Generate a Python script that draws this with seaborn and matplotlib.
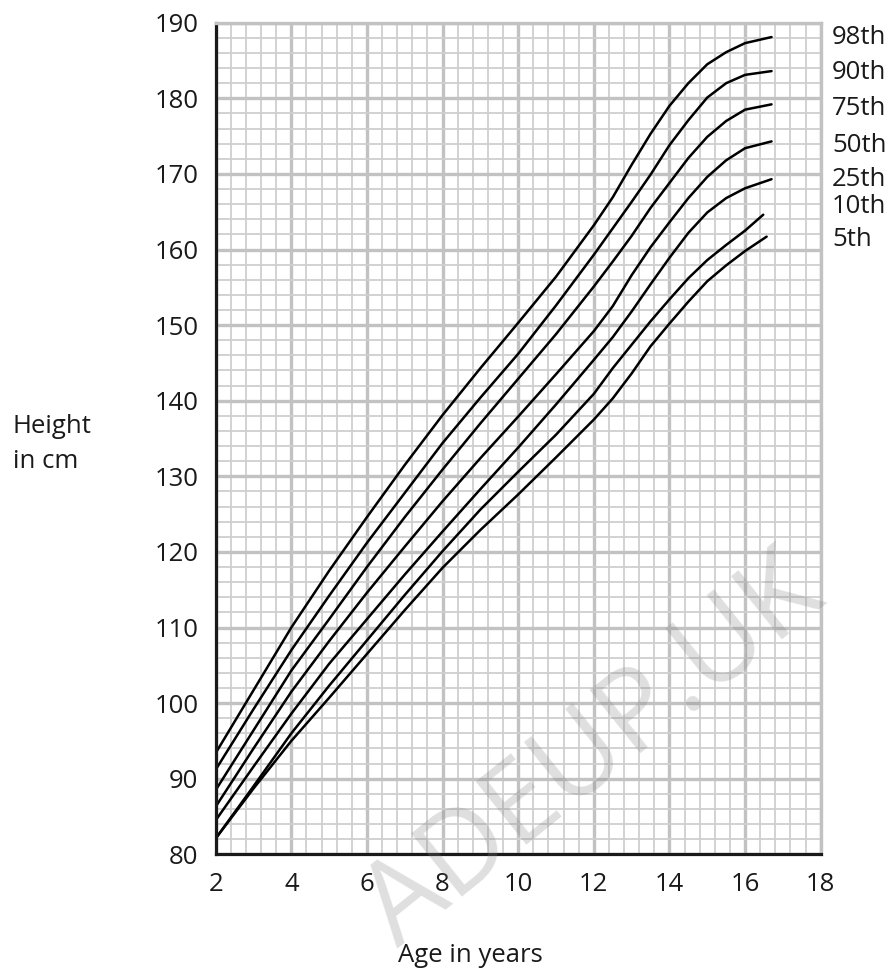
import matplotlib
matplotlib.use("Agg")
import matplotlib.pyplot as plt
import pandas as pd
import seaborn as sns
from matplotlib.ticker import MultipleLocator

# ---------------- data ----------------
PERCENTILES = ["98th", "90th", "75th", "50th", "25th", "10th", "5th"]
AGES = [2, 3, 4, 5, 6, 7, 8, 9, 10, 11, 12, 12.5, 13, 13.5, 14, 14.5, 15, 15.5, 16]
H98 = [93.4, 101.7, 110.0, 117.5, 124.6, 131.5, 138.1, 144.3, 150.3, 156.4, 163.2, 166.9, 171.2, 175.3, 179.0, 182.0, 184.5, 186.1, 187.3]
H90 = [91.2, 99.2, 107.0, 114.2, 121.2, 127.8, 134.4, 140.4, 146.2, 152.6, 159.3, 162.8, 166.3, 169.9, 173.8, 177.1, 180.1, 182.0, 183.1]
H75 = [88.5, 96.4, 104.3, 111.1, 118.0, 124.6, 130.9, 137.0, 142.9, 148.8, 155.1, 158.4, 161.8, 165.5, 168.8, 172.1, 174.9, 177.0, 178.5]
H50 = [86.3, 94.0, 101.5, 108.2, 114.6, 120.7, 126.7, 132.4, 137.9, 143.5, 149.2, 152.5, 156.6, 160.3, 163.6, 166.8, 169.6, 171.8, 173.4]
H25 = [84.5, 91.6, 98.6, 105.2, 111.1, 117.0, 122.7, 128.3, 133.8, 139.5, 145.4, 148.4, 151.8, 155.4, 158.9, 162.2, 164.9, 166.8, 168.1]
H10 = [82.1, 89.0, 96.0, 102.3, 108.3, 114.3, 120.1, 125.6, 130.6, 135.5, 140.9, 144.3, 147.4, 150.5, 153.4, 156.2, 158.6, 160.6, 162.5]
H05 = [82.1, 88.7, 95.0, 100.7, 106.5, 112.3, 117.9, 122.9, 127.6, 132.5, 137.5, 140.3, 143.6, 147.2, 150.2, 153.1, 155.8, 157.9, 159.8]
END_AGE = [16.7, 16.7, 16.7, 16.7, 16.7, 16.48, 16.57]
END_HEIGHT = [188.1, 183.6, 179.2, 174.3, 169.3, 164.6, 161.7]
LABEL_Y = [188.0, 183.4, 178.7, 173.8, 169.2, 165.7, 161.3]

X_TICKS = list(range(2, 19, 2))
Y_TICKS = list(range(80, 191, 10))

SERIES = [H98, H90, H75, H50, H25, H10, H05]

rows = []
for name, vals, ea, eh in zip(PERCENTILES, SERIES, END_AGE, END_HEIGHT):
    for a, h in zip(AGES, vals):
        rows.append((name, a, h))
    rows.append((name, ea, eh))
df = pd.DataFrame(rows, columns=["percentile", "age", "height"])

# ---------------- style ----------------
sns.set_style("white")
plt.rcParams["font.family"] = ["Open Sans", "DejaVu Sans"]

W, H = 895, 974
FS = 18.5
INK = "#1a1a1a"
fig = plt.figure(figsize=(W / 100, H / 100), dpi=100)
ax = fig.add_axes([215.7 / W, 1 - 854.3 / H, 605 / W, (854.3 - 22.7) / H])

ax.set_xlim(2, 18)
ax.set_ylim(80, 190)
ax.set_xticks(X_TICKS)
ax.set_yticks(Y_TICKS)
ax.xaxis.set_minor_locator(MultipleLocator(0.4))
ax.yaxis.set_minor_locator(MultipleLocator(2))
ax.set_axisbelow(True)
ax.grid(which="minor", color="#cfcfcf", lw=1.3)
ax.grid(which="major", color="#c2c2c2", lw=2.4)

sns.lineplot(data=df, x="age", y="height", hue="percentile",
             palette=["black"] * len(PERCENTILES), estimator=None,
             legend=False, ax=ax, lw=1.8)
for ln in ax.lines:
    ln.set_solid_joinstyle("round")

for side in ["left", "bottom"]:
    ax.spines[side].set_color(INK)
    ax.spines[side].set_linewidth(2.3)
for side in ["top", "right"]:
    ax.spines[side].set_color("#c2c2c2")
    ax.spines[side].set_linewidth(2.4)

ax.tick_params(which="major", direction="out", length=9.5, width=1.4,
               color=INK, labelsize=FS, pad=3, labelcolor=INK)
ax.tick_params(which="minor", length=0)
ax.set_xlabel("")
ax.set_ylabel("")

for name, y in zip(PERCENTILES, LABEL_Y):
    ax.text(18.3, y, name, fontsize=FS, va="center", ha="left",
            color=INK, clip_on=False)

fig.text(12.7 / W, 1 - 433 / H, "Height", fontsize=FS, va="baseline",
         ha="left", color=INK)
fig.text(12.7 / W, 1 - 468 / H, "in cm", fontsize=FS, va="baseline",
         ha="left", color=INK)
fig.text(470 / W, 1 - 955 / H, "Age in years", fontsize=FS, va="center",
         ha="center", color=INK)

# watermark
fig.text(594 / W, 1 - 752 / H, "ADEUP.UK", fontsize=82, rotation=38.8,
         color="gray", alpha=0.25, ha="center", va="center", zorder=10)

fig.savefig("out.png", dpi=100)
